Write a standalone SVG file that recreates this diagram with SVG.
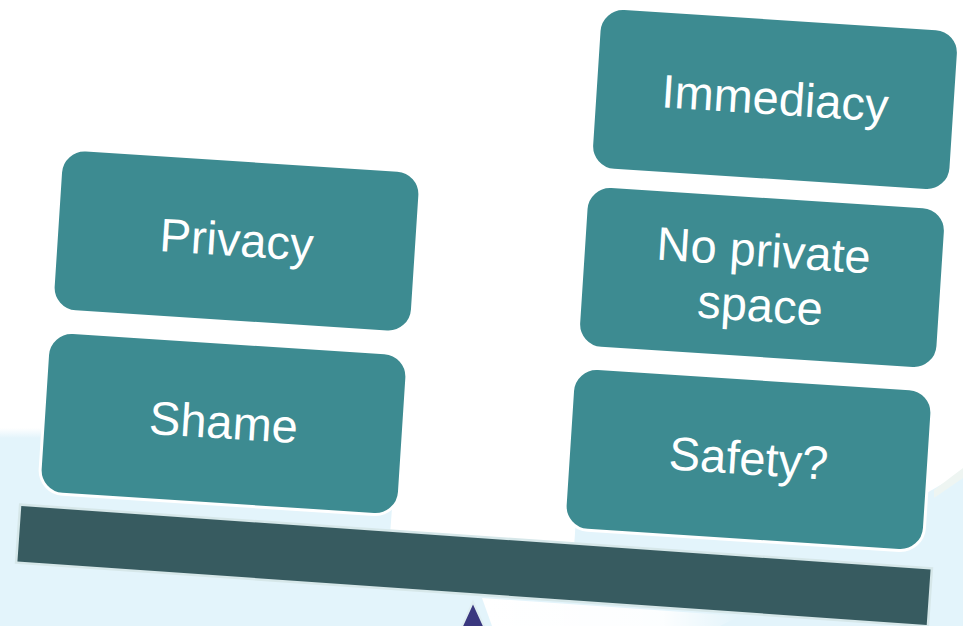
<svg xmlns="http://www.w3.org/2000/svg" width="963" height="626" viewBox="0 0 963 626">
  <style>
    .box { fill: #3d8b91; stroke: #ffffff; stroke-width: 3; }
    .lbl { fill: #ffffff; font-family: "Liberation Sans", Arial, sans-serif; font-size: 47px; text-anchor: middle; }
  </style>
  <defs>
    <linearGradient id="fade" x1="0" y1="0" x2="0" y2="1">
      <stop offset="0" stop-color="#ffffff"/>
      <stop offset="1" stop-color="#e3f4fb"/>
    </linearGradient>
    <linearGradient id="streak" x1="0" y1="0" x2="1" y2="0">
      <stop offset="0" stop-color="#ffffff" stop-opacity="1"/>
      <stop offset="0.7" stop-color="#ffffff" stop-opacity="0.9"/>
      <stop offset="1" stop-color="#ffffff" stop-opacity="0"/>
    </linearGradient>
  </defs>

  <!-- background -->
  <rect x="0" y="0" width="963" height="626" fill="#ffffff"/>
  <rect x="0" y="437" width="963" height="189" fill="#e3f4fb"/>
  <rect x="0" y="428" width="963" height="10" fill="url(#fade)"/>
  <polygon points="398,428 582,428 574,548 390,535" fill="#ffffff"/>
  <polygon points="925,428 963,428 963,472 925,494" fill="#ffffff"/>
  <polygon points="934,490 963,468 963,478 934,498" fill="#eef5f2"/>
  <polygon points="482,598 740,616 720,626 492,626" fill="url(#streak)"/>

  <!-- balance (beam and fulcrum) -->
  <g id="balance">
    <path d="M473,602 L503,668 L443,668 Z" fill="#3a387f" stroke="#dfeef2" stroke-width="2"/>
    <rect x="-457" y="-29" width="914" height="58" fill="#375b60" stroke="#d6e7e9" stroke-width="2.5" transform="translate(474,565.5) rotate(4)"/>
  </g>

  <g id="connectors"></g>

  <g id="privacy" transform="translate(236.5,241) rotate(3.7)">
    <rect class="box" x="-180" y="-81" width="360" height="162" rx="24"/>
    <text class="lbl" x="0" y="15">Privacy</text>
  </g>

  <g id="shame" transform="translate(223.5,423.5) rotate(3.7)">
    <rect class="box" x="-180" y="-81" width="360" height="162" rx="24"/>
    <text class="lbl" x="0" y="15">Shame</text>
  </g>

  <g id="immediacy" transform="translate(775,99.5) rotate(3.7)">
    <rect class="box" x="-180" y="-81" width="360" height="162" rx="24"/>
    <text class="lbl" x="0" y="15">Immediacy</text>
  </g>

  <g id="no-private-space" transform="translate(762,277.5) rotate(3.7)">
    <rect class="box" x="-180" y="-81" width="360" height="162" rx="24"/>
    <text class="lbl" x="0" y="-11">No private</text>
    <text class="lbl" x="0" y="44">space</text>
  </g>

  <g id="safety" transform="translate(748.5,459.5) rotate(3.7)">
    <rect class="box" x="-180" y="-81" width="360" height="162" rx="24"/>
    <text class="lbl" x="0" y="15">Safety?</text>
  </g>
</svg>
